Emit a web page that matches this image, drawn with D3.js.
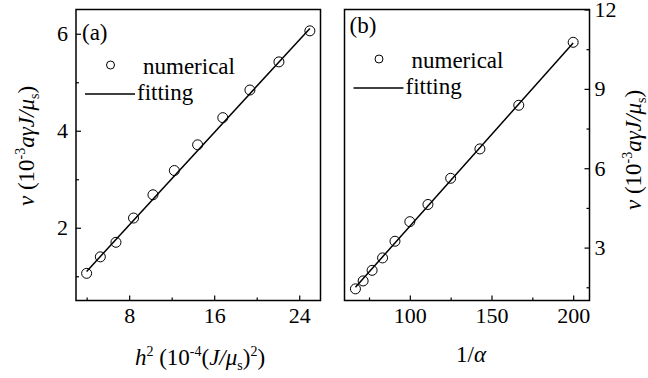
<!DOCTYPE html>
<html>
<head>
<meta charset="utf-8">
<script src="https://cdn.jsdelivr.net/npm/d3@7"></script>
<style>
  body { margin: 0; background: #fff; }
  svg text { font-family: "Liberation Serif", "DejaVu Serif", serif; fill: #000; }
</style>
</head>
<body>
<div id="chart"></div>
<script>
// panel (a): velocity vs h^2
const h2Values = [4, 5.29, 6.76, 8.41, 10.24, 12.25, 14.44, 16.81, 19.36, 22.09, 25];
const vA = [1.06, 1.40, 1.70, 2.20, 2.68, 3.18, 3.71, 4.27, 4.84, 5.42, 6.06];
const fitA = [[4, 1.10], [25, 6.11]];
const xTicksA = [8, 16, 24];
const xMinorA = [4, 12, 20];
const yTicksA = [2, 4, 6];
const yMinorA = [1, 3, 5];

// panel (b): velocity vs 1/alpha
const invAlpha = [66.7, 71.4, 76.9, 83.3, 90.9, 100, 111.1, 125, 142.9, 166.7, 200];
const vB = [1.44, 1.74, 2.14, 2.61, 3.24, 3.98, 4.63, 5.62, 6.73, 8.38, 10.76];
const fitB = [[66.7, 1.50], [200, 10.73]];
const xTicksB = [100, 150, 200];
const xMinorB = [75, 125, 175];
const yTicksB = [3, 6, 9, 12];
const yMinorB = [1.5, 4.5, 7.5, 10.5];

const width = 648, height = 378;
const tickFont = 22, textFont = 23, smallFont = 14;
const serif = '"Liberation Serif", "DejaVu Serif", serif';

const svg = d3.select('#chart')
    .append('svg')
    .attr('width', width)
    .attr('height', height)
    .style('font-family', serif);

const plotTop = 9.5, plotBottom = 300.5;

function drawPanel(opt) {
    const x = d3.scaleLinear().domain(opt.xDomain).range([opt.left, opt.right]);
    const y = d3.scaleLinear().domain(opt.yDomain).range([plotBottom, plotTop]);
    const g = svg.append('g');

    // frame
    g.append('rect')
        .attr('x', opt.left).attr('y', plotTop)
        .attr('width', opt.right - opt.left).attr('height', plotBottom - plotTop)
        .attr('fill', 'none').attr('stroke', '#000').attr('stroke-width', 1.5);

    // bottom axis
    const xAxis = d3.axisBottom(x).tickValues(opt.xTicks).tickFormat(d3.format('d'))
        .tickSizeInner(-5).tickSizeOuter(0).tickPadding(7);
    const xg = g.append('g').attr('transform', `translate(0,${plotBottom})`).call(xAxis);
    const xMinor = d3.axisBottom(x).tickValues(opt.xMinor).tickSizeInner(-3).tickSizeOuter(0).tickFormat('');
    const xmg = g.append('g').attr('transform', `translate(0,${plotBottom})`).call(xMinor);

    // side axis (ticks point inward)
    const side = opt.yRight ? d3.axisRight : d3.axisLeft;
    const ax = opt.yRight ? opt.right : opt.left;
    const yAxis = side(y).tickValues(opt.yTicks).tickFormat(d3.format('d'))
        .tickSizeInner(-5).tickSizeOuter(0).tickPadding(opt.yPad);
    const yg = g.append('g').attr('transform', `translate(${ax},0)`).call(yAxis);
    const yMinor = side(y).tickValues(opt.yMinor).tickSizeInner(-3).tickSizeOuter(0).tickFormat('');
    const ymg = g.append('g').attr('transform', `translate(${ax},0)`).call(yMinor);

    [xg, xmg, yg, ymg].forEach(a => {
        a.attr('font-family', serif).attr('font-size', tickFont);
        a.select('.domain').remove();
        a.selectAll('line').attr('stroke', '#000').attr('stroke-width', 1.2);
        a.selectAll('text').attr('fill', '#000');
    });

    // fitting line
    g.append('path')
        .datum(opt.fit)
        .attr('d', d3.line().x(d => x(d[0])).y(d => y(d[1])))
        .attr('fill', 'none').attr('stroke', '#000').attr('stroke-width', 1.5);

    // numerical points
    g.selectAll('.pt')
        .data(opt.xs.map((v, i) => [v, opt.ys[i]]))
        .enter()
        .append('circle')
        .attr('class', 'pt')
        .attr('cx', d => x(d[0])).attr('cy', d => y(d[1]))
        .attr('r', 5)
        .attr('fill', 'none').attr('stroke', '#000').attr('stroke-width', 1);

    // panel tag and legend
    const lx = opt.left;
    g.append('text').attr('x', lx + opt.tagDx).attr('y', opt.tagY).attr('font-size', textFont).text(opt.tag);
    g.append('circle')
        .attr('cx', lx + 34.5).attr('cy', opt.legY)
        .attr('r', 4).attr('fill', 'none').attr('stroke', '#000').attr('stroke-width', 1);
    g.append('text').attr('x', lx + 67).attr('y', opt.legY + 9).attr('font-size', textFont).text('numerical');
    g.append('line')
        .attr('x1', lx + 9).attr('x2', lx + 59)
        .attr('y1', opt.legY + 29).attr('y2', opt.legY + 29)
        .attr('stroke', '#000').attr('stroke-width', 1.5);
    g.append('text').attr('x', lx + 61).attr('y', opt.legY + 35).attr('font-size', textFont).text('fitting');

    return { x, y, g };
}

drawPanel({
    left: 76, right: 320.5,
    xDomain: [3, 26], yDomain: [0.5, 6.5], yPad: 8,
    xTicks: xTicksA, xMinor: xMinorA, yTicks: yTicksA, yMinor: yMinorA,
    xs: h2Values, ys: vA, fit: fitA,
    tag: '(a)', tagDx: 6, tagY: 40, legY: 65
});

drawPanel({
    left: 344.5, right: 589.5,
    xDomain: [60, 210], yDomain: [1, 12], yRight: true, yPad: 5,
    xTicks: xTicksB, xMinor: xMinorB, yTicks: yTicksB, yMinor: yMinorB,
    xs: invAlpha, ys: vB, fit: fitB,
    tag: '(b)', tagDx: 5, tagY: 33, legY: 59
});

// axis titles
function vLabel(xPos, yPos) {
    const t = svg.append('text')
        .attr('transform', `translate(${xPos},${yPos}) rotate(-90)`)
        .attr('text-anchor', 'middle')
        .attr('font-size', textFont);
    t.append('tspan').attr('font-style', 'italic').text('v');
    t.append('tspan').text(' (10');
    t.append('tspan').attr('font-size', smallFont).attr('dy', -9).text('-3');
    t.append('tspan').attr('font-style', 'italic').attr('dy', 9).text('aγJ/μ');
    t.append('tspan').attr('font-size', smallFont).attr('dy', 5).text('s');
    t.append('tspan').attr('dy', -5).text(')');
}
vLabel(34, 146);
vLabel(641, 150);

const xa = svg.append('text')
    .attr('x', 200).attr('y', 365)
    .attr('text-anchor', 'middle')
    .attr('font-size', textFont);
xa.append('tspan').attr('font-style', 'italic').text('h');
xa.append('tspan').attr('font-size', smallFont).attr('dy', -9).text('2');
xa.append('tspan').attr('dy', 9).text(' (10');
xa.append('tspan').attr('font-size', smallFont).attr('dy', -9).text('-4');
xa.append('tspan').attr('dy', 9).text('(');
xa.append('tspan').attr('font-style', 'italic').text('J/μ');
xa.append('tspan').attr('font-size', smallFont).attr('dy', 5).text('s');
xa.append('tspan').attr('dy', -5).text(')');
xa.append('tspan').attr('font-size', smallFont).attr('dy', -9).text('2');
xa.append('tspan').attr('dy', 9).text(')');

const xb = svg.append('text')
    .attr('x', 471).attr('y', 362)
    .attr('text-anchor', 'middle')
    .attr('font-size', textFont);
xb.append('tspan').text('1/');
xb.append('tspan').attr('font-style', 'italic').text('α');
</script>
</body>
</html>
